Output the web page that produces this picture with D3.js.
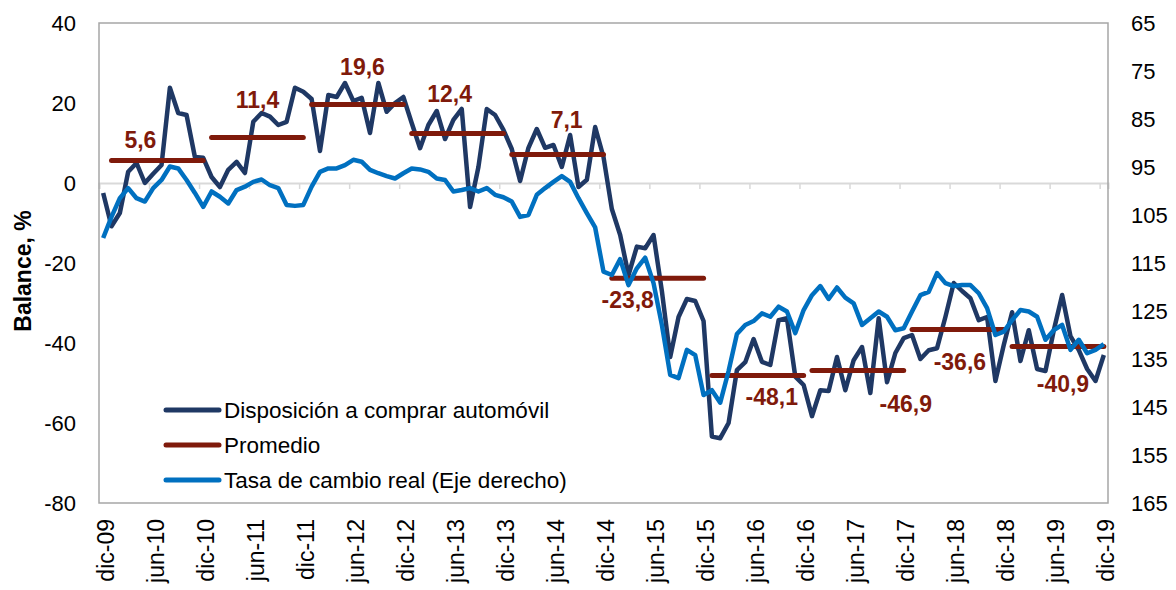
<!DOCTYPE html>
<html lang="es">
<head>
    <meta charset="UTF-8">
    <title>Disposición a comprar automóvil y tasa de cambio real</title>
    <script src="https://d3js.org/d3.v7.min.js"></script>
    <style>
        body { margin: 0; background: #fff; }
        svg { font-family: "Liberation Sans", Arial, sans-serif; }
    </style>
</head>
<body>
    <svg width="1176" height="590"></svg>

    <script>
        // etiquetas del eje x (cada 6 meses, dic-09 .. dic-19)
        const xLabels = ["dic-09", "jun-10", "dic-10", "jun-11", "dic-11", "jun-12", "dic-12",
            "jun-13", "dic-13", "jun-14", "dic-14", "jun-15", "dic-15", "jun-16", "dic-16",
            "jun-17", "dic-17", "jun-18", "dic-18", "jun-19", "dic-19"];

        // Disposición a comprar automóvil (balance, %), mensual dic-09 .. dic-19
        const disposicion = [
            -2.5, -10.8, -7.5, 2.8, 5.0, 0.0, 2.3, 4.5, 23.8, 17.5, 17.0, 6.5, 6.3,
            1.5, -1.0, 3.3, 5.3, 2.5, 15.3, 17.5, 16.6, 14.5, 15.3, 23.8, 22.8,
            21.0, 8.0, 22.0, 21.5, 25.0, 20.5, 21.3, 12.5, 25.0, 17.8, 20.0, 21.5,
            15.0, 8.7, 14.5, 18.0, 11.0, 15.8, 18.5, -6.0, 4.0, 18.5, 17.0, 13.3,
            8.5, 0.5, 8.8, 13.5, 8.8, 9.5, 4.0, 12.0, -1.0, 0.8, 14.0, 6.5,
            -6.5, -13.0, -23.0, -15.9, -16.3, -13.0, -27.0, -43.5, -33.5, -29.0, -29.5, -34.5,
            -63.4, -63.8, -60.0, -46.8, -44.8, -39.0, -44.7, -45.5, -34.3, -33.8, -48.4, -50.5,
            -58.3, -51.8, -52.0, -43.5, -51.8, -44.3, -41.0, -52.5, -33.8, -49.8, -42.5, -38.8,
            -38.0, -44.0, -41.8, -41.3, -33.5, -25.0, -27.0, -28.8, -34.3, -33.5, -49.5, -40.5,
            -32.3, -44.5, -36.8, -46.5, -47.0, -36.8, -28.0, -38.3, -41.8, -46.5, -49.5, -43.0
        ];

        // Tasa de cambio real (eje derecho, invertido)
        const tasa = [
            109.8, 105.4, 101.5, 99.4, 101.5, 102.2, 99.4, 97.7, 94.9, 95.3, 97.7, 100.4, 103.3,
            100.1, 101.2, 102.6, 99.8, 99.1, 98.1, 97.6, 98.8, 99.4, 102.9, 103.1, 102.9,
            99.1, 96.0, 95.3, 95.3, 94.6, 93.5, 93.9, 95.6, 96.3, 96.9, 97.4, 96.3,
            95.3, 95.5, 96.0, 97.4, 97.7, 100.1, 99.8, 99.4, 100.1, 99.4, 100.8, 101.3,
            102.2, 105.4, 105.0, 100.8, 99.4, 98.1, 96.9, 98.1, 101.5, 104.6, 107.6, 116.8,
            117.5, 114.2, 119.6, 116.1, 113.9, 119.2, 127.9, 138.3, 139.0, 133.1, 134.2, 142.5,
            141.5, 144.1, 137.5, 129.8, 127.9, 127.1, 125.5, 126.2, 124.1, 125.1, 129.6, 124.8,
            121.7, 119.8, 122.5, 120.1, 122.2, 123.4, 127.9, 126.5, 125.1, 126.2, 129.0, 128.6,
            125.1, 121.7, 121.0, 117.1, 119.2, 119.8, 119.6, 119.6, 121.3, 124.4, 130.0, 129.3,
            126.9, 124.8, 125.1, 126.2, 131.0, 129.0, 127.9, 133.1, 131.0, 133.8, 133.1, 131.9
        ];

        // promedio anual (2010 .. 2019)
        const promedio = [5.6, 11.4, 19.6, 12.4, 7.1, -23.8, -48.1, -46.9, -36.6, -40.9];

        const leftTicks = [-80, -60, -40, -20, 0, 20, 40];
        const rightTicks = [65, 75, 85, 95, 105, 115, 125, 135, 145, 155, 165];

        // desplazamiento de las etiquetas del promedio (px, respecto al centro de la línea)
        const labelOffset = [[-17, -13], [0, -29], [5, -30], [-8, -31], [9, -27],
            [-30, 30], [14, 30], [48, 41], [2, 41], [5, 45]];

        const colDark = "#1f3864", colBlue = "#0070c0", colRed = "#7f1a0b";
        const fmt = v => String(v).replace(".", ",");

        const svg = d3.select("svg");
        const pLeft = 99, pRight = 1108, pTop = 23, pBottom = 503;

        const x = d3.scaleLinear().domain([0, 121]).range([pLeft, pRight]);
        const y = d3.scaleLinear().domain([-80, 40]).range([pBottom, pTop]);
        const y2 = d3.scaleLinear().domain([65, 165]).range([pTop, pBottom]);

        // línea del cero con marcas cada 6 meses
        const xAxis = svg.append("g")
            .attr("transform", `translate(0,${y(0)})`)
            .call(d3.axisBottom(x).tickValues(d3.range(0, 121, 6)).tickSize(6).tickFormat(""));
        xAxis.select(".domain").attr("stroke", "#d9d9d9").attr("stroke-width", 2);
        xAxis.selectAll(".tick line").attr("stroke", "#d9d9d9").attr("stroke-width", 1.5);

        // borde del área de gráfico
        svg.append("rect")
            .attr("x", pLeft).attr("y", pTop)
            .attr("width", pRight - pLeft).attr("height", pBottom - pTop)
            .attr("fill", "none").attr("stroke", "#a6a6a6").attr("stroke-width", 1.5);

        // ejes verticales
        const yAxis = svg.append("g")
            .attr("transform", `translate(${pLeft},0)`)
            .call(d3.axisLeft(y).tickValues(leftTicks).tickSize(0).tickPadding(23)
                .tickFormat(d => String(d)));
        const y2Axis = svg.append("g")
            .attr("transform", `translate(${pRight},0)`)
            .call(d3.axisRight(y2).tickValues(rightTicks).tickSize(0).tickPadding(23)
                .tickFormat(d => String(d)));
        [yAxis, y2Axis].forEach(g => {
            g.select(".domain").remove();
            g.selectAll("text").attr("font-size", 22).attr("fill", "#000")
                .attr("font-family", "'Liberation Sans', Arial, sans-serif");
        });

        // etiquetas del eje x
        const xLab = svg.append("g")
            .attr("transform", `translate(0,${pBottom})`)
            .call(d3.axisBottom(x).tickValues(d3.range(0.5, 121, 6)).tickSize(0)
                .tickFormat((d, i) => xLabels[i]));
        xLab.select(".domain").remove();
        xLab.selectAll("text")
            .attr("font-size", 23).attr("fill", "#000")
            .attr("font-family", "'Liberation Sans', Arial, sans-serif")
            .attr("text-anchor", "end")
            .attr("dy", "0.35em")
            .attr("transform", "translate(2,16) rotate(-90)")
            .attr("x", 0).attr("y", 0);

        // título eje y
        svg.append("text")
            .attr("transform", `translate(31,${(pTop + pBottom) / 2 + 8}) rotate(-90)`)
            .attr("text-anchor", "middle")
            .attr("font-size", 23).attr("font-weight", "bold")
            .text("Balance, %");

        // series
        const lineDark = d3.line().x((d, i) => x(i + 0.5)).y(d => y(d));
        const lineBlue = d3.line().x((d, i) => x(i + 0.5)).y(d => y2(d));

        svg.append("path").datum(disposicion)
            .attr("d", lineDark)
            .attr("fill", "none").attr("stroke", colDark)
            .attr("stroke-width", 4.5).attr("stroke-linejoin", "round");

        svg.append("g").selectAll("line").data(promedio).join("line")
            .attr("x1", (d, k) => x(12 * k + 1.5))
            .attr("x2", (d, k) => x(12 * k + 12.5))
            .attr("y1", d => y(d)).attr("y2", d => y(d))
            .attr("stroke", colRed).attr("stroke-width", 5).attr("stroke-linecap", "round");

        svg.append("path").datum(tasa)
            .attr("d", lineBlue)
            .attr("fill", "none").attr("stroke", colBlue)
            .attr("stroke-width", 4.5).attr("stroke-linejoin", "round");

        svg.append("g").selectAll("text").data(promedio).join("text")
            .attr("x", (d, k) => x(12 * k + 7) + labelOffset[k][0])
            .attr("y", (d, k) => y(d) + labelOffset[k][1])
            .attr("text-anchor", "middle")
            .attr("font-size", 23).attr("font-weight", "bold")
            .attr("fill", colRed)
            .text(d => fmt(d));

        // leyenda
        const legend = [
            { name: "Disposición a comprar automóvil", color: colDark },
            { name: "Promedio", color: colRed },
            { name: "Tasa de cambio real (Eje derecho)", color: colBlue }
        ];
        const lg = svg.append("g").selectAll("g").data(legend).join("g")
            .attr("transform", (d, i) => `translate(166,${410 + i * 35})`);
        lg.append("line")
            .attr("x1", 0).attr("x2", 53)
            .attr("stroke", d => d.color).attr("stroke-width", 5).attr("stroke-linecap", "round");
        lg.append("text")
            .attr("x", 58).attr("dy", "0.35em")
            .attr("font-size", 22.5).attr("fill", "#000")
            .text(d => d.name);
    </script>
</body>
</html>
